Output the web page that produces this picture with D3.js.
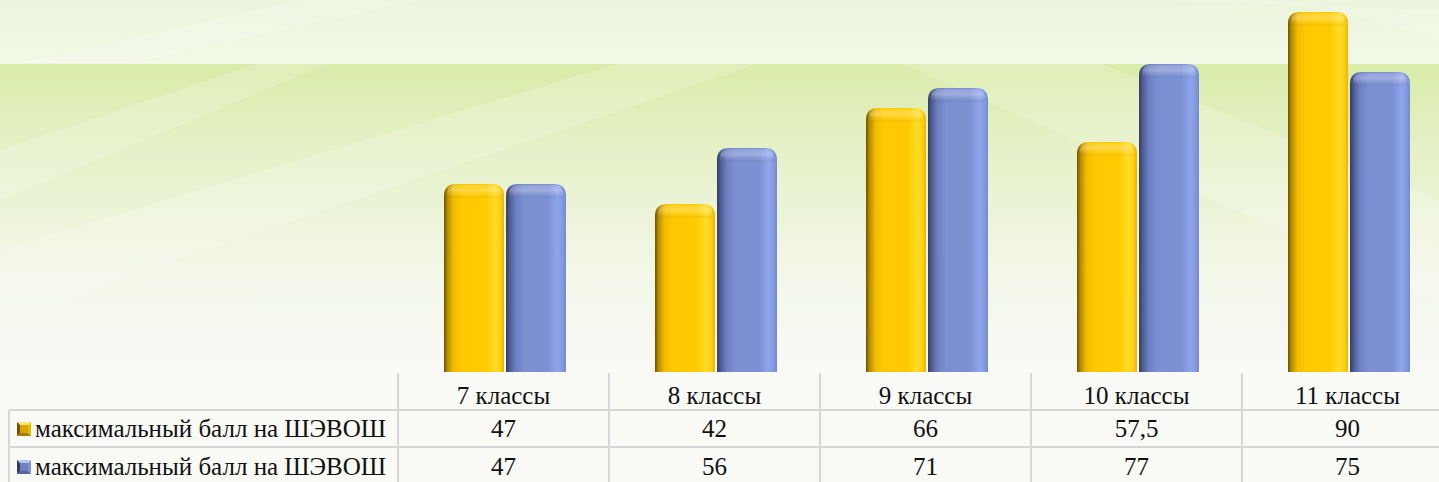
<!DOCTYPE html>
<html>
<head>
<meta charset="utf-8">
<script src="https://cdn.jsdelivr.net/npm/d3@7"></script>
<style>
  html, body { margin: 0; padding: 0; overflow: hidden; }
  svg { display: block; font-family: "Liberation Serif", "Times New Roman", serif; }
</style>
</head>
<body>
<div id="container"></div>
<script>
// chart data
var categories = ["7 классы", "8 классы", "9 классы", "10 классы", "11 классы"];
var seriesNames = ["максимальный балл на ШЭВОШ", "максимальный балл на ШЭВОШ"];
var seriesA = [47, 42, 66, 57.5, 90];
var seriesB = [47, 56, 71, 77, 75];

var width = 1439, height = 482;
var baseY = 372;

var svg = d3.select("#container").append("svg")
  .attr("width", width)
  .attr("height", height);

var defs = svg.append("defs");

/* background gradients */
var bgTop = defs.append("linearGradient").attr("id", "bgTop")
  .attr("x1", 0).attr("y1", 0).attr("x2", 0).attr("y2", 1);
bgTop.append("stop").attr("offset", "0%").attr("stop-color", "#ebf4dc");
bgTop.append("stop").attr("offset", "100%").attr("stop-color", "#f2f8e6");

var bgLow = defs.append("linearGradient").attr("id", "bgLow")
  .attr("x1", 0).attr("y1", 0).attr("x2", 0).attr("y2", 1);
bgLow.append("stop").attr("offset", "0%").attr("stop-color", "#d9eca9");
bgLow.append("stop").attr("offset", "30%").attr("stop-color", "#e6f1c9");
bgLow.append("stop").attr("offset", "70%").attr("stop-color", "#f3f7e8");
bgLow.append("stop").attr("offset", "100%").attr("stop-color", "#f9f9f5");

svg.append("rect").attr("width", width).attr("height", height).attr("fill", "#f9f9f6");
svg.append("rect").attr("width", width).attr("height", 63).attr("fill", "url(#bgTop)");
svg.append("rect").attr("y", 63).attr("width", width).attr("height", 300).attr("fill", "url(#bgLow)");

// soft diagonal streaks
var streaks = [
  [[0, 250], [0, 320], [760, 63], [620, 63]],
  [[0, 150], [0, 200], [330, 63], [260, 63]],
  [[900, 63], [1100, 63], [1439, 200], [1439, 300]],
  [[300, 0], [420, 0], [130, 63], [20, 63]],
  [[1150, 0], [1300, 0], [1439, 40], [1439, 10]]
];
svg.append("g").selectAll("polygon").data(streaks).enter().append("polygon")
  .attr("points", function(d) { return d.map(function(p) { return p.join(","); }).join(" "); })
  .attr("fill", "#ffffff")
  .attr("opacity", 0.18);

svg.append("line").attr("x1", 0).attr("x2", width).attr("y1", 63).attr("y2", 63)
  .attr("stroke", "#f8fbef").attr("stroke-width", 2).attr("opacity", 0.8);

/* bar gradients */
function barGradient(id, stops) {
  var g = defs.append("linearGradient").attr("id", id)
    .attr("x1", 0).attr("y1", 0).attr("x2", 1).attr("y2", 0);
  stops.forEach(function(s) {
    g.append("stop").attr("offset", s[0]).attr("stop-color", s[1]);
  });
}
barGradient("gradA", [["0%", "#6e5200"], ["6%", "#b88e00"], ["16%", "#f2bd00"], ["30%", "#ffc800"],
  ["70%", "#ffcb00"], ["86%", "#ffdc2a"], ["94%", "#ffcf10"], ["100%", "#e8b400"]]);
barGradient("gradB", [["0%", "#323b5e"], ["6%", "#4e5c92"], ["16%", "#6c7fc2"], ["30%", "#7b8fd1"],
  ["70%", "#7c90d3"], ["86%", "#8fa5ec"], ["94%", "#8499de"], ["100%", "#7689cc"]]);

var capGrad = defs.append("linearGradient").attr("id", "cap")
  .attr("x1", 0).attr("y1", 0).attr("x2", 0).attr("y2", 1);
capGrad.append("stop").attr("offset", "0%").attr("stop-color", "#ffffff").attr("stop-opacity", 0.15);
capGrad.append("stop").attr("offset", "40%").attr("stop-color", "#ffffff").attr("stop-opacity", 0.28);
capGrad.append("stop").attr("offset", "75%").attr("stop-color", "#ffffff").attr("stop-opacity", 0.05);
capGrad.append("stop").attr("offset", "100%").attr("stop-color", "#000000").attr("stop-opacity", 0.06);

/* scales */
var x0 = d3.scaleBand().domain(categories).range([398, 1453]);
var x1 = d3.scaleBand().domain([0, 1]).range([46, 168]).paddingInner(0.033);
var y = d3.scaleLinear().domain([0, 90]).range([baseY, 12]);

var rows = categories.map(function(c, i) {
  return { cat: c, vals: [seriesA[i], seriesB[i]] };
});

function barPath(x, top, w, bottom, r) {
  return "M" + x + "," + bottom +
    "V" + (top + r) +
    "Q" + x + "," + top + " " + (x + r) + "," + top +
    "H" + (x + w - r) +
    "Q" + (x + w) + "," + top + " " + (x + w) + "," + (top + r) +
    "V" + bottom + "Z";
}

var groups = svg.append("g").selectAll("g").data(rows).enter().append("g")
  .attr("transform", function(d) { return "translate(" + x0(d.cat) + ",0)"; });

var bars = groups.selectAll("g.bar").data(function(d) {
  return d.vals.map(function(v, k) { return { k: k, v: v }; });
}).enter().append("g").attr("class", "bar");

bars.append("path")
  .attr("d", function(d) { return barPath(x1(d.k), y(d.v), x1.bandwidth(), baseY, 12); })
  .attr("fill", function(d) { return d.k === 0 ? "url(#gradA)" : "url(#gradB)"; });

// bevel highlight on the rounded top
bars.append("path")
  .attr("d", function(d) { return barPath(x1(d.k) + 3, y(d.v) + 1, x1.bandwidth() - 6, y(d.v) + 14, 9); })
  .attr("fill", "url(#cap)");

/* data table */
var grid = "#d6d6d6";
var t = svg.append("g");
var colEdges = categories.map(function(c) { return x0(c); });

t.selectAll("line.v").data(colEdges).enter().append("line")
  .attr("x1", function(d) { return d; }).attr("x2", function(d) { return d; })
  .attr("y1", baseY + 1).attr("y2", height)
  .attr("stroke", grid).attr("stroke-width", 2);
t.append("line").attr("x1", 9).attr("x2", 9).attr("y1", 410).attr("y2", height)
  .attr("stroke", grid).attr("stroke-width", 2);
[410, 447].forEach(function(yy) {
  t.append("line").attr("x1", 9).attr("x2", width).attr("y1", yy).attr("y2", yy)
    .attr("stroke", grid).attr("stroke-width", 2);
});

t.selectAll("text.cat").data(categories).enter().append("text")
  .attr("x", function(d) { return x0(d) + x0.bandwidth() / 2; })
  .attr("y", 404)
  .attr("text-anchor", "middle")
  .attr("font-size", 25)
  .attr("fill", "#111")
  .text(function(d) { return d; });

function fmt(v) { return String(v).replace(".", ","); }

// pyramid-style legend key
var keyColors = [
  ["#ffe27a", "#f0b800", "#a67c00", "#6b5000", "#d9a600"],
  ["#b7c4f2", "#8093d4", "#56649c", "#323b60", "#6e80c2"]
];
function legendKey(g, x0k, y0k, s, c) {
  var cx = x0k + s / 2, cy = y0k + s / 2;
  var tris = [
    [[x0k, y0k], [x0k + s, y0k], [cx, cy], c[0]],
    [[x0k + s, y0k], [x0k + s, y0k + s], [cx, cy], c[1]],
    [[x0k + s, y0k + s], [x0k, y0k + s], [cx, cy], c[2]],
    [[x0k, y0k + s], [x0k, y0k], [cx, cy], c[3]]
  ];
  tris.forEach(function(tr) {
    g.append("polygon")
      .attr("points", tr.slice(0, 3).map(function(p) { return p.join(","); }).join(" "))
      .attr("fill", tr[3]);
  });
  g.append("rect").attr("x", x0k + 3).attr("y", y0k + 3).attr("width", s - 6).attr("height", s - 6)
    .attr("fill", c[4]);
}

[seriesA, seriesB].forEach(function(vals, k) {
  var rowY = 437 + k * 38;
  legendKey(t, 17, rowY - 15, 14, keyColors[k]);
  t.append("text")
    .attr("x", 35).attr("y", rowY)
    .attr("font-size", 25).attr("fill", "#111")
    .text(seriesNames[k]);
  t.selectAll("text.v" + k).data(vals).enter().append("text")
    .attr("x", function(d, i) { return x0(categories[i]) + x0.bandwidth() / 2; })
    .attr("y", rowY)
    .attr("text-anchor", "middle")
    .attr("font-size", 25)
    .attr("fill", "#111")
    .text(fmt);
});
</script>
</body>
</html>
